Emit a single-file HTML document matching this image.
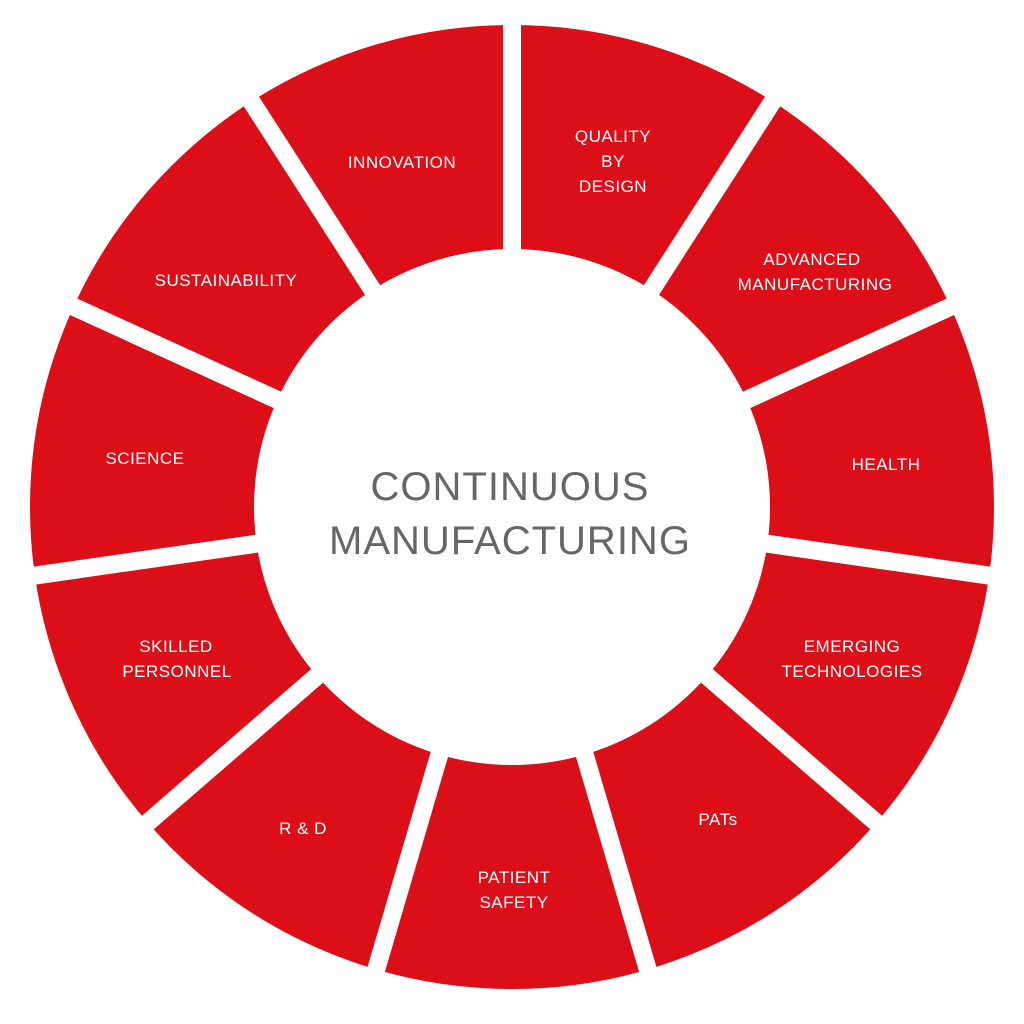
<!DOCTYPE html>
<html><head><meta charset="utf-8"><style>
html,body{margin:0;padding:0;background:#fff;}
svg{display:block;}
.l{font-family:"Liberation Sans",sans-serif;font-size:17px;fill:#fff;letter-spacing:0.5px;text-anchor:middle;}
.c{font-family:"Liberation Sans",sans-serif;font-size:40px;fill:#666;text-anchor:middle;letter-spacing:1px;}
</style></head><body>
<svg width="1024" height="1024" viewBox="0 0 1024 1024" xmlns="http://www.w3.org/2000/svg">
<rect width="1024" height="1024" fill="#fff"/>
<circle cx="512" cy="507" r="370" fill="none" stroke="#dc0f19" stroke-width="224"/>
<g stroke="#fff" stroke-width="18" id="g"></g>
<circle cx="512" cy="507" r="257" fill="#fff"/>
<text class="l" x="402" y="168">INNOVATION</text>
<text class="l" x="613" y="142">QUALITY</text>
<text class="l" x="613" y="167">BY</text>
<text class="l" x="613" y="192">DESIGN</text>
<text class="l" x="812" y="265">ADVANCED</text>
<text class="l" x="815" y="290">MANUFACTURING</text>
<text class="l" x="226" y="286">SUSTAINABILITY</text>
<text class="l" x="145" y="464">SCIENCE</text>
<text class="l" x="886" y="470">HEALTH</text>
<text class="l" x="176" y="652">SKILLED</text>
<text class="l" x="177" y="677">PERSONNEL</text>
<text class="l" x="852" y="652">EMERGING</text>
<text class="l" x="852" y="677">TECHNOLOGIES</text>
<text class="l" x="303" y="834">R &amp; D</text>
<text class="l" x="718" y="825">PATs</text>
<text class="l" x="514" y="883">PATIENT</text>
<text class="l" x="514" y="908">SAFETY</text>
<text class="c" x="510" y="500">CONTINUOUS</text>
<text class="c" x="510" y="554">MANUFACTURING</text>
<script>
var g=document.getElementById('g');
for(var k=0;k<11;k++){var a=k*2*Math.PI/11;var l=document.createElementNS('http://www.w3.org/2000/svg','line');
l.setAttribute('x1',512);l.setAttribute('y1',507);l.setAttribute('x2',512+520*Math.sin(a));l.setAttribute('y2',507-520*Math.cos(a));g.appendChild(l);}
</script>
</svg>
</body></html>
